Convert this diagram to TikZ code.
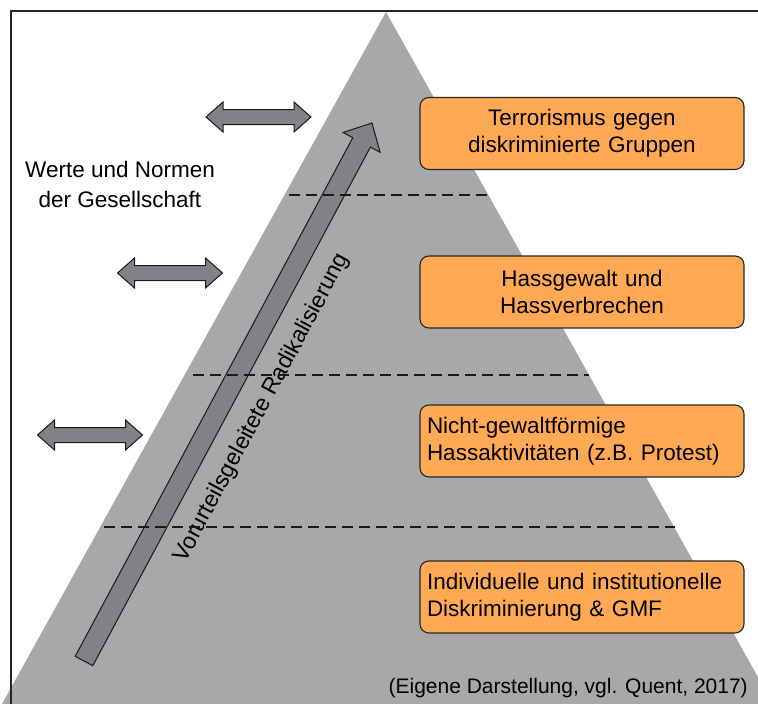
\documentclass[tikz,border=0pt]{standalone}
\usepackage{fontspec}
\setmainfont{Liberation Sans}
\usetikzlibrary{calc}
\definecolor{pyrgray}{HTML}{A7A8AA}
\definecolor{arrgray}{HTML}{808285}
\definecolor{boxorange}{HTML}{FFA955}
\begin{document}
\begin{tikzpicture}[x=1pt,y=-1pt,
  levelbox/.style={draw=black!85, line width=1.1pt, fill=boxorange, rounded corners=9pt,
    minimum width=324pt, minimum height=72pt, text width=310pt, inner xsep=7pt, inner ysep=0pt,
    font=\fontsize{22.5}{27}\selectfont},
  levelline/.style={draw=black!90, line width=1.3pt, dash pattern=on 11pt off 6pt},
  arrowshape/.style={draw=black!90, line width=1pt, fill=arrgray, line join=miter},
  pics/dblarrow/.style={code={
    \draw[arrowshape] (-52.5,0) -- (-35.5,-15) -- (-35.5,-7.5) -- (35.5,-7.5) -- (35.5,-15)
      -- (52.5,0) -- (35.5,15) -- (35.5,7.5) -- (-35.5,7.5) -- (-35.5,15) -- cycle;}}
]
\useasboundingbox (0,0) rectangle (758,704);
\clip (0,0) rectangle (758,704);
\fill[white] (0,0) rectangle (758,704);

% pyramid
\coordinate (apex) at (386,12);
\coordinate (baseL) at (2,704);
\coordinate (baseR) at (773,704);
\fill[pyrgray] (apex) -- (baseR) -- ($(baseR)+(20,40)$) -- ($(baseL)+(-20,40)$) -- (baseL) -- cycle;

% big radicalisation arrow
\coordinate (radtail) at (84,661);
\coordinate (radtip) at (372,123);
\draw[arrowshape] (75.2,656.3) -- (352.8,137.7) -- (343.1,132.5) -- (radtip) -- (380.1,152.3)
  -- (370.4,147.1) -- (92.8,665.7) -- cycle;
\node[rotate=61.84, font=\fontsize{23}{27}\selectfont, inner sep=0pt] (radlabel) at (262,408)
  {Vorurteilsgeleitete Radikalisierung};

% level separators
\coordinate (s1a) at (289,195); \coordinate (s1b) at (490,195);
\coordinate (s2a) at (193,375); \coordinate (s2b) at (589,375);
\coordinate (s3a) at (104,527); \coordinate (s3b) at (675,527);
\draw[levelline] (s1a) -- (s1b);
\draw[levelline] (s2a) -- (s2b);
\draw[levelline] (s3a) -- (s3b);

% level boxes
\node[levelbox, align=center] (b1) at (582,133.5) {Terrorismus gegen\\diskriminierte Gruppen};
\node[levelbox, align=center] (b2) at (582,292) {Hassgewalt und\\Hassverbrechen};
\node[levelbox, align=left] (b3) at (582,441) {Nicht-gewaltförmige\\Hassaktivitäten (z.B. Protest)};
\node[levelbox, align=left] (b4) at (582,597) {Individuelle und institutionelle\\Diskriminierung \& GMF};

% double arrows
\pic (da1) at (258.5,117) {dblarrow};
\pic (da2) at (170,273) {dblarrow};
\pic (da3) at (90,435) {dblarrow};

% left text
\node[align=center, inner sep=0pt, font=\fontsize{22.5}{30.5}\selectfont] (werte) at (120,184.5)
  {Werte und Normen\\der Gesellschaft};

% source
\node[anchor=base east, inner sep=0pt, font=\fontsize{21}{25}\selectfont] (src) at (748,693)
  {(Eigene Darstellung, vgl. Quent, 2017)};

% frame
\draw[line width=1.8pt, black!85] (11,740) -- (11,11) -- (790,11);
\end{tikzpicture}
\end{document}
